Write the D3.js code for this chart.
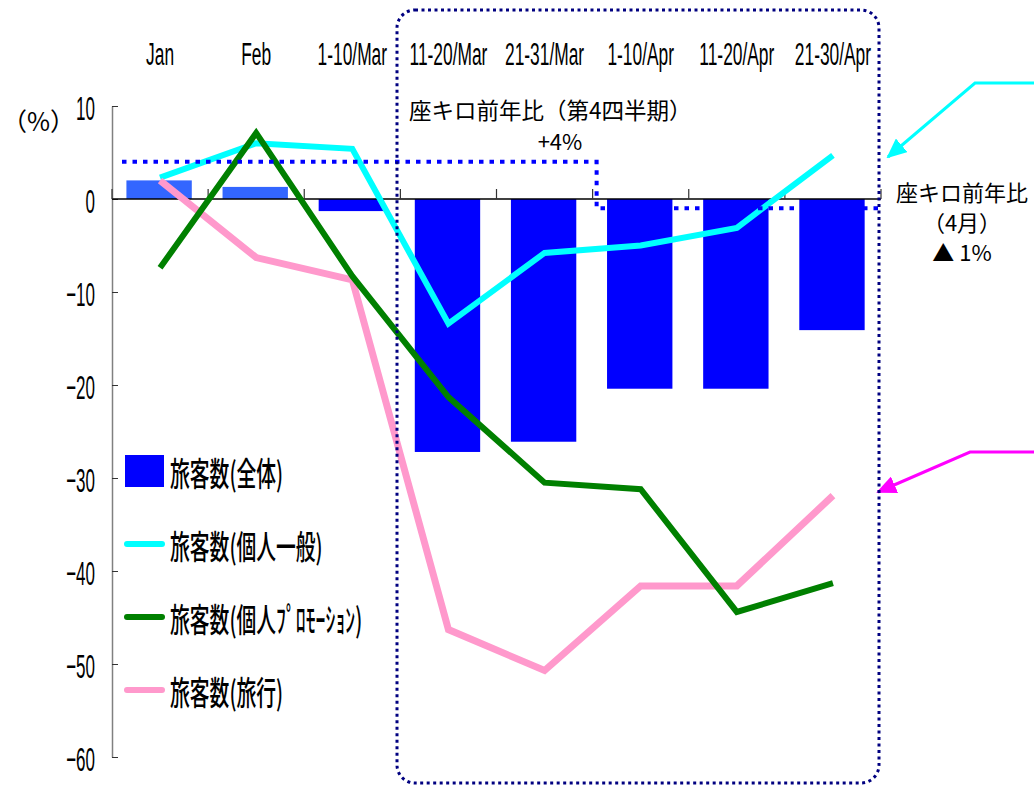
<!DOCTYPE html>
<html>
<head>
<meta charset="utf-8">
<script src="https://cdn.jsdelivr.net/npm/d3@7"></script>
<style>
  body { margin: 0; background: #fff; }
</style>
</head>
<body>
<div id="container"></div>
<script>
let w = 1034;
let h = 786;

// data
let categories = ["Jan", "Feb", "1-10/Mar", "11-20/Mar", "21-31/Mar", "1-10/Apr", "11-20/Apr", "21-30/Apr"];
let totalValues = [2.0, 1.3, -1.3, -27.2, -26.1, -20.4, -20.4, -14.1];
let generalValues = [2.3, 6.0, 5.4, -13.4, -5.8, -5.0, -3.1, 4.7];
let promoValues = [-7.4, 7.1, -8.3, -21.3, -30.5, -31.2, -44.4, -41.3];
let travelValues = [2.0, -6.3, -8.7, -46.3, -50.7, -41.6, -41.6, -31.9];
let seatKmValues = [4, 4, 4, 4, 4, -1, -1, -1];
let yTicks = [10, 0, -10, -20, -30, -40, -50, -60];
let legendLabels = ["旅客数(全体)", "旅客数(個人一般)", "旅客数(個人ﾌﾟﾛﾓｰｼｮﾝ)", "旅客数(旅行)"];

let cjk = "'Noto Sans CJK JP', sans-serif";
let latin = "'Liberation Sans', Arial, sans-serif";

let viz = d3.select("#container")
  .append("svg")
    .attr("width", w)
    .attr("height", h)
    .style("background-color", "white");

let xScale = d3.scaleBand().domain(categories).range([112, 881]).padding(0);
let yScale = d3.scaleLinear().domain([-60, 10]).range([757, 106]);
let step = xScale.step();
let cx = d => xScale(d) + step / 2;

// y axis
let yAxis = d3.axisLeft(yScale).tickValues(yTicks).tickSizeInner(-6).tickSizeOuter(0).tickPadding(17);
let yAxisGroup = viz.append("g").attr("transform", "translate(112,0)").call(yAxis);
yAxisGroup.select(".domain").attr("stroke", "#808080").attr("stroke-width", 1.5);
yAxisGroup.selectAll(".tick line").attr("stroke", "#333");
// narrow the numbers like the original gothic font
yAxisGroup.selectAll(".tick text")
  .attr("fill", "black")
  .attr("x", -17 / 0.5)
  .attr("transform", "scale(0.5,1)")
  .style("font-family", latin)
  .style("font-size", "34px")
  .attr("dy", "0.4em");

viz.append("text")
  .text("（%）")
  .attr("x", 2)
  .attr("y", 131)
  .style("font-family", cjk)
  .style("font-size", "25px");

// bars
viz.selectAll(".bar").data(categories).enter()
  .append("rect")
    .attr("class", "bar")
    .attr("x", d => xScale(d) + step * 0.15)
    .attr("width", step * 0.68)
    .attr("y", (d, i) => yScale(Math.max(0, totalValues[i])))
    .attr("height", (d, i) => Math.abs(yScale(totalValues[i]) - yScale(0)))
    .attr("fill", (d, i) => i < 2 ? "#3366ff" : "#0000ff");

// zero line + category ticks
viz.append("line")
  .attr("x1", 112).attr("x2", 881)
  .attr("y1", yScale(0)).attr("y2", yScale(0))
  .attr("stroke", "black").attr("stroke-width", 1.5);
let boundaries = categories.map(d => xScale(d)).concat([xScale.range()[1]]);
viz.selectAll(".ctick").data(boundaries).enter()
  .append("line")
    .attr("x1", d => d).attr("x2", d => d)
    .attr("y1", yScale(0)).attr("y2", yScale(0) - 10)
    .attr("stroke", "#333").attr("stroke-width", 1.2);

// top category labels
viz.selectAll(".cat").data(categories).enter()
  .append("text")
    .attr("transform", d => "translate(" + cx(d) + ",65) scale(0.56,1)")
    .attr("text-anchor", "middle")
    .style("font-family", latin)
    .style("font-size", "31px")
    .text(d => d);

// lines
let line = d3.line().x((d, i) => cx(categories[i])).y(d => yScale(d));
let series = [
  { values: generalValues, color: "#00ffff", width: 6 },
  { values: travelValues, color: "#ff99cc", width: 7 },
  { values: promoValues, color: "#008000", width: 6 }
];
series.forEach(s => {
  viz.append("path")
    .attr("d", line(s.values))
    .attr("fill", "none")
    .attr("stroke", s.color)
    .attr("stroke-width", s.width);
});

// seat-km step line
let stepPts = seatKmValues.map((v, i) => [xScale(categories[i]), yScale(v)]);
stepPts[0][0] = xScale(categories[0]) + 10;
stepPts.push([xScale.range()[1], yScale(seatKmValues[seatKmValues.length - 1])]);
viz.append("path")
  .attr("d", d3.line().curve(d3.curveStepAfter)(stepPts.map((p, i) => i == 5 ? [p[0] + 4, p[1]] : p)))
  .attr("fill", "none")
  .attr("stroke", "#0000ff")
  .attr("stroke-width", 4)
  .attr("stroke-dasharray", "4.5,6");

// legend
let legend = viz.append("g");
let rowY = [471, 544, 617, 690];
let legendColors = ["#0000ff", "#00ffff", "#008000", "#ff99cc"];
legend.append("rect")
  .attr("x", 125).attr("y", rowY[0] - 16)
  .attr("width", 39).attr("height", 32)
  .attr("fill", legendColors[0]);
for (let i = 1; i < 4; i++) {
  legend.append("line")
    .attr("x1", 127).attr("x2", 162)
    .attr("y1", rowY[i]).attr("y2", rowY[i])
    .attr("stroke", legendColors[i])
    .attr("stroke-width", 6)
    .attr("stroke-linecap", "round");
}
legend.selectAll(".ltext").data(legendLabels).enter()
  .append("text")
    .attr("transform", (d, i) => "translate(170," + rowY[i] + ") scale(0.6,1)")
    .attr("dominant-baseline", "central")
    .style("font-family", cjk)
    .style("font-size", "33px")
    .style("font-weight", 500)
    .text(d => d);

// annotations
viz.append("text")
  .text("座キロ前年比（第4四半期）")
  .attr("x", 409).attr("y", 119)
  .style("font-family", cjk).style("font-size", "22.5px");
viz.append("text")
  .text("+4%")
  .attr("x", 560).attr("y", 150)
  .attr("text-anchor", "middle")
  .style("font-family", cjk).style("font-size", "22px");

let rightNote = ["座キロ前年比", "（4月）", "▲ 1%"];
viz.selectAll(".rnote").data(rightNote).enter()
  .append("text")
    .attr("x", 962)
    .attr("y", (d, i) => 201 + i * 30)
    .attr("text-anchor", "middle")
    .style("font-family", cjk)
    .style("font-size", "22px")
    .text(d => d);

// arrows
let defs = viz.append("defs");
[["arrowCyan", "#00ffff"], ["arrowMag", "#ff00ff"]].forEach(a => {
  defs.append("marker")
    .attr("id", a[0])
    .attr("viewBox", "0 0 20 18")
    .attr("refX", 18).attr("refY", 9)
    .attr("markerWidth", 20).attr("markerHeight", 18)
    .attr("markerUnits", "userSpaceOnUse")
    .attr("orient", "auto")
    .append("path")
      .attr("d", "M0,0 L20,9 L0,18 Z")
      .attr("fill", a[1]);
});
viz.append("path")
  .attr("d", "M1034,83 H975 L888,157")
  .attr("fill", "none")
  .attr("stroke", "#00ffff")
  .attr("stroke-width", 3)
  .attr("marker-end", "url(#arrowCyan)");
viz.append("path")
  .attr("d", "M1034,452 H970 L878,492")
  .attr("fill", "none")
  .attr("stroke", "#ff00ff")
  .attr("stroke-width", 3)
  .attr("marker-end", "url(#arrowMag)");

// dotted frame round the March/April part
viz.append("rect")
  .attr("x", 397).attr("y", 10)
  .attr("width", 482).attr("height", 773)
  .attr("rx", 18).attr("ry", 18)
  .attr("fill", "none")
  .attr("stroke", "#000080")
  .attr("stroke-width", 3)
  .attr("stroke-dasharray", "3,3.5");
</script>
</body>
</html>
